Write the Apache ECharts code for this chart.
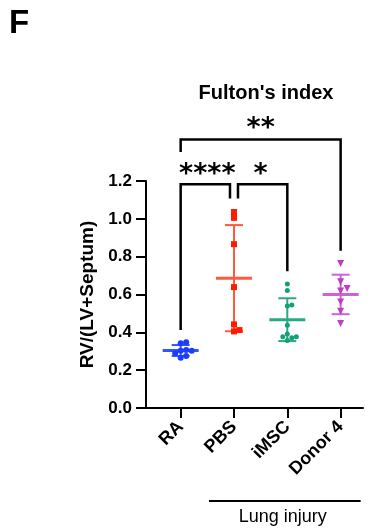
<!DOCTYPE html>
<html><head><meta charset="utf-8">
<script src="https://cdn.jsdelivr.net/npm/echarts@6/dist/echarts.min.js"></script>
<style>html,body{margin:0;padding:0;background:#fff}#c{width:388px;height:529px}</style>
</head><body><div id="c"></div>
<script>
const categories = ['RA', 'PBS', 'iMSC', 'Donor 4'];
const raValues = [0.342, 0.347, 0.306, 0.303, 0.290, 0.303, 0.266, 0.275];
const pbsValues = [1.036, 1.005, 0.866, 0.639, 0.442, 0.405, 0.412];
const imscValues = [0.656, 0.621, 0.545, 0.539, 0.437, 0.391, 0.376, 0.371, 0.376, 0.357];
const donorValues = [0.764, 0.667, 0.632, 0.619, 0.561, 0.512, 0.447];
const yTickLabels = ['0.0', '0.2', '0.4', '0.6', '0.8', '1.0', '1.2'];
// [fromGroup, toGroup, barValue, fromLegEnd, toLegEnd]
const comparisons = [
  [0, 1, 1.183, 0.412, 1.107],
  [1, 2, 1.183, 1.107, 0.723],
  [0, 3, 1.419, 1.353, 0.831]
];
const stars = ['****', '*', '**'];
const starValues = [1.262, 1.262, 1.505];
const groupLabel = 'Lung injury';
const groupSpan = [1, 3];

const groups = [raValues, pbsValues, imscValues, donorValues];
const pointColors = ['#1a3cff', '#ff1a00', '#13a075', '#c03cc8'];
const barColors = ['#3355ff', '#ff5a3c', '#2aa884', '#d060d8'];
const symbols = ['circle', 'rect', 'circle', 'triangle'];
const symbolSizes = [6, 6, 5, 7];
const symbolRotate = [0, 0, 0, 180];
const FONT = 'Liberation Sans, Arial, sans-serif';
const GRID_H = 227;
const ppu = GRID_H / 1.2;

function mean(a) { return a.reduce((s, v) => s + v, 0) / a.length; }
function sd(a) { const m = mean(a); return Math.sqrt(a.reduce((s, v) => s + (v - m) * (v - m), 0) / (a.length - 1)); }
function swarm(vals, d) {
  const order = vals.map((v, i) => i).sort((a, b) => vals[a] - vals[b]);
  const placed = []; const off = new Array(vals.length).fill(0);
  for (const i of order) {
    const y = vals[i] * ppu;
    for (let k = 0; k < 30; k++) {
      const cand = k === 0 ? 0 : (k % 2 ? 1 : -1) * Math.ceil(k / 2) * d;
      if (placed.every(p => Math.hypot(p[0] - cand, p[1] - y) >= d)) { off[i] = cand; placed.push([cand, y]); break; }
    }
  }
  return off;
}

const chart = echarts.init(document.getElementById('c'));
const series = [];
groups.forEach((vals, gi) => {
  const off = swarm(vals, symbolSizes[gi] - 0.5);
  series.push({
    type: 'scatter', xAxisIndex: 1, yAxisIndex: 1, z: 4,
    symbol: symbols[gi], symbolSize: symbolSizes[gi], symbolRotate: symbolRotate[gi],
    itemStyle: { color: pointColors[gi], opacity: 1 },
    data: vals.map((v, j) => ({ value: [gi, v], symbolOffset: [off[j], 0] }))
  });
});
series.push({
  type: 'custom', xAxisIndex: 1, yAxisIndex: 1, z: 3,
  data: groups.map((vals, gi) => [gi, mean(vals), sd(vals)]),
  renderItem: (params, api) => {
    const i = api.value(0), m = api.value(1), s = api.value(2);
    const pm = api.coord([i, m]), pt = api.coord([i, m + s]), pb = api.coord([i, m - s]);
    const c = barColors[params.dataIndex];
    const ls = (x1, y1, x2, y2, w) => ({ type: 'line', shape: { x1, y1, x2, y2 }, style: { stroke: c, lineWidth: w } });
    return { type: 'group', children: [
      ls(pt[0], pt[1], pb[0], pb[1], 2),
      ls(pt[0] - 9, pt[1], pt[0] + 9, pt[1], 2),
      ls(pb[0] - 9, pb[1], pb[0] + 9, pb[1], 2),
      ls(pm[0] - 18, pm[1], pm[0] + 18, pm[1], 3)
    ] };
  }
});
const bracketDx = [[0, -4], [4, 0], [0, 0]];
series.push({
  type: 'custom', xAxisIndex: 1, yAxisIndex: 1, z: 5, clip: false,
  data: comparisons,
  renderItem: (params, api) => {
    const a = api.value(0), b = api.value(1), top = api.value(2), e1 = api.value(3), e2 = api.value(4);
    const dx = bracketDx[params.dataIndex];
    const pA = api.coord([a, top]), pB = api.coord([b, top]);
    const yA = api.coord([a, e1])[1], yB = api.coord([b, e2])[1];
    return { type: 'polyline', shape: { points: [[pA[0] + dx[0], yA], [pA[0] + dx[0], pA[1]], [pB[0] + dx[1], pB[1]], [pB[0] + dx[1], yB]] },
      style: { stroke: '#000', lineWidth: 2.5, fill: null } };
  }
});
series.push({
  type: 'custom', xAxisIndex: 1, yAxisIndex: 1, z: 5, clip: false,
  data: starValues.map((v, i) => [comparisons[i][0], v]),
  renderItem: (params, api) => {
    const c = comparisons[params.dataIndex];
    const x = (api.coord([c[0], 0])[0] + api.coord([c[1], 0])[0]) / 2;
    const y = api.coord([c[0], api.value(1)])[1];
    return { type: 'text', x: x, y: y + 6, style: { text: stars[params.dataIndex], fontSize: 27, fontWeight: 'bold',
      fontFamily: 'DejaVu Sans', fill: '#000', align: 'center', verticalAlign: 'middle' } };
  }
});
series.push({
  type: 'custom', xAxisIndex: 1, yAxisIndex: 1, z: 5, clip: false,
  data: [[groupSpan[0], 0]],
  renderItem: (params, api) => {
    const p1 = api.coord([groupSpan[0], 0]), p2 = api.coord([groupSpan[1], 0]);
    const x1 = p1[0] - 25, x2 = p2[0] + 20, y = p1[1] + 93;
    return { type: 'group', children: [
      { type: 'line', shape: { x1, y1: y, x2, y2: y }, style: { stroke: '#000', lineWidth: 2 } },
      { type: 'text', x: (x1 + x2) / 2 - 2, y: y + 16, style: { text: groupLabel, fontSize: 18, fontFamily: FONT, fill: '#000', align: 'center', verticalAlign: 'middle' } }
    ] };
  }
});

chart.setOption({
  animation: false,
  backgroundColor: '#fff',
  title: [
    { text: 'F', left: 4, top: 2, textStyle: { fontSize: 33, fontWeight: 'bold', fontFamily: FONT, color: '#000' } },
    { text: "Fulton's index", left: 261, textAlign: 'center', top: 78, textStyle: { fontSize: 20, fontWeight: 'bold', fontFamily: FONT, color: '#000' } }
  ],
  grid: [
    { left: 146, top: 181, width: 217, height: GRID_H },
    { left: 154, top: 181, width: 213.3, height: GRID_H }
  ],
  xAxis: [
    { gridIndex: 0, type: 'value', min: 0, max: 1, axisLine: { show: true, lineStyle: { color: '#000', width: 2 } },
      axisTick: { show: false }, axisLabel: { show: false }, splitLine: { show: false } },
    { gridIndex: 1, type: 'category', data: categories, axisLine: { show: false },
      axisTick: { show: true, alignWithLabel: true, length: 10, lineStyle: { color: '#000', width: 2 } },
      axisLabel: { rotate: 45, margin: 16, interval: 0, fontSize: 18, fontWeight: 'bold', fontFamily: FONT, color: '#000' },
      splitLine: { show: false } }
  ],
  yAxis: [
    { gridIndex: 0, type: 'value', min: 0, max: 1.2, interval: 0.2,
      axisLine: { show: true, lineStyle: { color: '#000', width: 2 } },
      axisTick: { show: true, length: 10, lineStyle: { color: '#000', width: 2 } },
      axisLabel: { fontSize: 17, fontWeight: 'bold', fontFamily: FONT, color: '#000', margin: 14,
        formatter: (v, i) => yTickLabels[i] },
      splitLine: { show: false },
      name: 'RV/(LV+Septum)', nameLocation: 'middle', nameGap: 41, nameRotate: 90,
      nameTextStyle: { fontSize: 19, fontWeight: 'bold', fontFamily: FONT, color: '#000' } },
    { gridIndex: 1, type: 'value', min: 0, max: 1.2, show: false }
  ],
  series: series
});
</script></body></html>
